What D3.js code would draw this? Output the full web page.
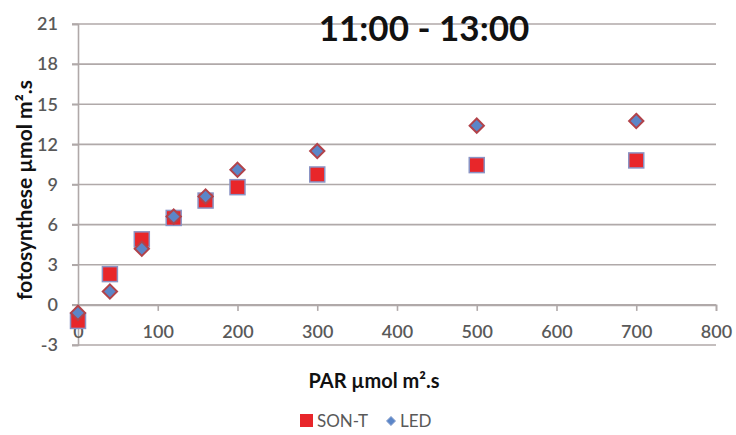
<!DOCTYPE html>
<html>
<head>
<meta charset="utf-8">
<script src="https://cdn.jsdelivr.net/npm/d3@7"></script>
<style>
  html, body { margin: 0; padding: 0; background: #fff; }
  svg { display: block; }
  text { font-family: Lato, "Open Sans", sans-serif; }
</style>
</head>
<body>
<svg id="chart" width="736" height="435"></svg>
<script>
// ---- data ----
const title = "11:00 - 13:00";
const parValues = [0, 40, 80, 120, 160, 200, 300, 500, 700];
const sonT = [-1.2, 2.3, 4.9, 6.5, 7.8, 8.8, 9.75, 10.45, 10.8];
const led = [-0.6, 1.0, 4.2, 6.6, 8.1, 10.1, 11.5, 13.4, 13.75];
const xTicks = [0, 100, 200, 300, 400, 500, 600, 700, 800];
const yTicks = [-3, 0, 3, 6, 9, 12, 15, 18, 21];
const xTitle = "PAR µmol m².s";
const yTitle = "fotosynthese µmol m².s";
const seriesNames = ["SON-T", "LED"];

// ---- layout ----
const svg = d3.select("#chart");
const pLeft = 78, pRight = 716, pTop = 24, pBottom = 345;
const x = d3.scaleLinear().domain([0, 800]).range([pLeft, pRight]);
const y = d3.scaleLinear().domain([-3, 21]).range([pBottom, pTop]);

const gridColor = "#b0a9a9";
const labelColor = "#595959";
const fmt = d => String(d);

// horizontal gridlines
svg.append("g").selectAll("line").data(yTicks).join("line")
  .attr("x1", pLeft - 6).attr("x2", pRight)
  .attr("y1", d => y(d)).attr("y2", d => y(d))
  .attr("stroke", gridColor).attr("stroke-width", 1.6);

// y axis
const yAxis = svg.append("g").attr("transform", `translate(${pLeft},0)`)
  .call(d3.axisLeft(y).tickValues(yTicks).tickSize(6).tickPadding(14).tickFormat(fmt));
yAxis.select(".domain").attr("stroke", gridColor).attr("stroke-width", 1.6);
yAxis.selectAll(".tick line").attr("stroke", gridColor).attr("stroke-width", 1.6);
yAxis.selectAll(".tick text").attr("fill", labelColor).attr("font-size", 18)
  .attr("font-family", "Lato, sans-serif").attr("font-weight", 600);

// x axis at y=0
const xAxis = svg.append("g").attr("transform", `translate(0,${y(0)})`)
  .call(d3.axisBottom(x).tickValues(xTicks).tickSize(6).tickPadding(14).tickFormat(fmt));
xAxis.select(".domain").attr("stroke", gridColor).attr("stroke-width", 1.6);
xAxis.selectAll(".tick line").attr("stroke", gridColor).attr("stroke-width", 1.6);
xAxis.selectAll(".tick text").attr("fill", labelColor).attr("font-size", 18)
  .attr("font-family", "Lato, sans-serif").attr("font-weight", 600);

// title
svg.append("text").attr("x", 424).attr("y", 41).attr("text-anchor", "middle")
  .attr("font-size", 35).attr("font-weight", 700).attr("fill", "#111").text(title);

// axis titles
svg.append("text").attr("x", 374).attr("y", 388).attr("text-anchor", "middle")
  .attr("font-size", 20).attr("font-weight", 700).attr("fill", "#111").text(xTitle);
svg.append("text").attr("transform", "translate(32,190) rotate(-90)")
  .attr("text-anchor", "middle")
  .attr("font-size", 21).attr("font-weight", 700).attr("fill", "#111").text(yTitle);

// markers
const sq = 15;
const sonData = parValues.map((p, i) => ({ p, v: sonT[i] }));
const ledData = parValues.map((p, i) => ({ p, v: led[i] }));

svg.append("g").selectAll("rect").data(sonData).join("rect")
  .attr("x", d => x(d.p) - sq / 2).attr("y", d => y(d.v) - sq / 2)
  .attr("width", sq).attr("height", sq)
  .attr("fill", "#e8262a").attr("stroke", "#8a93c4").attr("stroke-width", 1.5);

const diamond = d3.symbol().type(d3.symbolDiamond2).size(130);
svg.append("g").selectAll("path").data(ledData).join("path")
  .attr("d", diamond)
  .attr("transform", d => `translate(${x(d.p)},${y(d.v)})`)
  .attr("fill", "#5b86c8").attr("stroke", "#b2434a").attr("stroke-width", 2);

// legend
const lg = svg.append("g");
lg.append("rect").attr("x", 300).attr("y", 414).attr("width", 13).attr("height", 13)
  .attr("fill", "#e8262a");
lg.append("text").attr("x", 317).attr("y", 427).attr("font-size", 17)
  .attr("fill", labelColor).text(seriesNames[0]);
lg.append("path").attr("d", d3.symbol().type(d3.symbolDiamond2).size(55))
  .attr("transform", "translate(391,421)")
  .attr("fill", "#5b86c8").attr("stroke", "#a8b8d8").attr("stroke-width", 1);
lg.append("text").attr("x", 400).attr("y", 427).attr("font-size", 17)
  .attr("fill", labelColor).text(seriesNames[1]);
</script>
</body>
</html>
